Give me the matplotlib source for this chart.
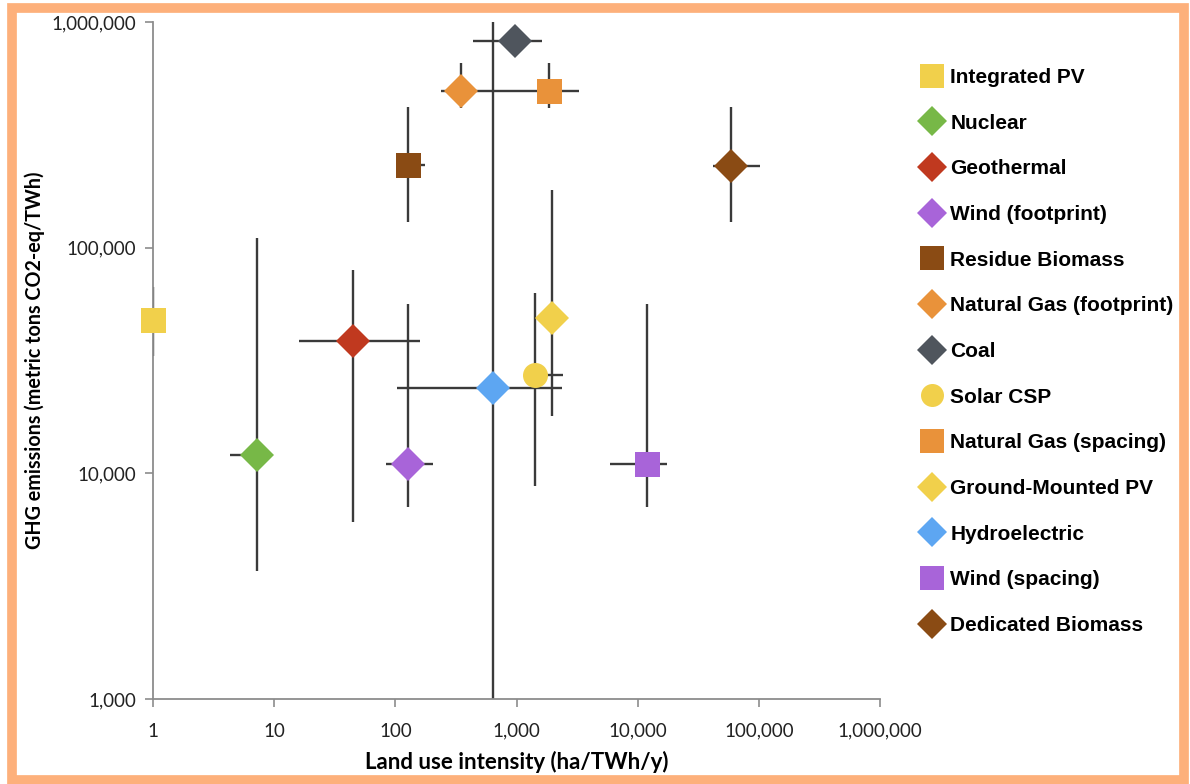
import matplotlib
matplotlib.use("Agg")
import matplotlib.pyplot as plt
from matplotlib.patches import Rectangle
from matplotlib.ticker import FuncFormatter, NullLocator
import numpy as np

# data (log-log)
names = ["Integrated PV", "Nuclear", "Geothermal", "Wind (footprint)", "Residue Biomass",
         "Natural Gas (footprint)", "Coal", "Solar CSP", "Natural Gas (spacing)",
         "Ground-Mounted PV", "Hydroelectric", "Wind (spacing)", "Dedicated Biomass"]
land = [1, 7.2, 45, 128, 127, 348, 970, 1420, 1850, 1960, 635, 11900, 58700]
ghg = [48000, 12000, 38500, 11000, 232000, 495000, 826000, 27300, 495000, 48700, 24000, 11000, 230000]
land_lo = [1, 4.3, 16, 84, 110, 237, 436, 1420, 1000, 1960, 103, 5900, 41700]
land_hi = [1, 9, 160, 205, 175, 1000, 1620, 2415, 3270, 1960, 2370, 17400, 102000]
ghg_lo = [33000, 3700, 6100, 7100, 130000, 415000, 826000, 8800, 415000, 18000, 1000, 7100, 130000]
ghg_hi = [67000, 110000, 80000, 56000, 420000, 657000, 826000, 63000, 657000, 180000, 1000000, 56000, 420000]

yellow, green, red, purple = "#F1D04B", "#77B847", "#C0391F", "#A864D9"
brown, orange, coal, blue = "#8A4B14", "#E9923A", "#4F555D", "#5DA6F2"
colors = [yellow, green, red, purple, brown, orange, coal, yellow, orange, yellow, blue, purple, brown]
markers = ["s", "D", "D", "D", "s", "D", "D", "o", "s", "D", "D", "s", "D"]

fig = plt.figure(figsize=(11.9, 7.84), dpi=100)
ax = fig.add_axes([153 / 1190, 1 - 699 / 784, (880 - 153) / 1190, (699 - 22) / 784])

x = np.array(land)
y = np.array(ghg)
xerr = [x - np.array(land_lo), np.array(land_hi) - x]
yerr = [y - np.array(ghg_lo), np.array(ghg_hi) - y]
ax.errorbar(x, y, xerr=xerr, yerr=yerr, fmt="none", ecolor="#3a3a3a", elinewidth=1.7,
            capsize=0, zorder=2)

handles = []
for i in range(len(names)):
    ms = 17 if markers[i] == "D" else 18
    h, = ax.plot(x[i], y[i], linestyle="none", marker=markers[i], ms=ms, color=colors[i],
                 markeredgewidth=0, label=names[i], zorder=3, clip_on=False)
    handles.append(h)

ax.set_xscale("log")
ax.set_yscale("log")
ax.set_xlim(1, 1e6)
ax.set_ylim(1e3, 1e6)
ax.set_xticks([10 ** k for k in range(7)])
ax.set_yticks([10 ** k for k in range(3, 7)])
ax.xaxis.set_minor_locator(NullLocator())
ax.yaxis.set_minor_locator(NullLocator())
fmt = FuncFormatter(lambda v, p: f"{int(round(v)):,}")
ax.xaxis.set_major_formatter(fmt)
ax.yaxis.set_major_formatter(fmt)

for s in ["top", "right"]:
    ax.spines[s].set_visible(False)
for s in ["left", "bottom"]:
    ax.spines[s].set_color("#8c8c8c")
    ax.spines[s].set_linewidth(1.3)
ax.tick_params(axis="both", which="major", length=6, width=1.2, color="#8c8c8c",
               labelsize=13.5, labelcolor="#222222")
ax.tick_params(axis="x", pad=11)
ax.tick_params(axis="y", pad=6)
for lab in ax.get_xticklabels() + ax.get_yticklabels():
    lab.set_family("Lato")

ax.set_xlabel("Land use intensity (ha/TWh/y)", fontsize=16, fontweight="bold",
              family="Lato", labelpad=8)
ax.set_ylabel("GHG emissions (metric tons CO2-eq/TWh)", fontsize=14.2, fontweight="bold",
              family="Lato", labelpad=5)

leg = fig.legend(handles=handles, loc="upper left", bbox_to_anchor=(922 / 1190, 1 - 68 / 784),
                 frameon=False, prop={"family": "Liberation Sans", "weight": "bold", "size": 15},
                 labelspacing=1.28, handlelength=1.0, handletextpad=0.35, markerscale=0.92,
                 borderpad=0, borderaxespad=0)

# orange frame around the whole picture
fig.add_artist(Rectangle((12 / 1190, 4 / 784), 1172 / 1190, 772 / 784, transform=fig.transFigure,
                         fill=False, edgecolor="#FDB07B", linewidth=7, zorder=-1))

fig.savefig("out.png", dpi=100)
